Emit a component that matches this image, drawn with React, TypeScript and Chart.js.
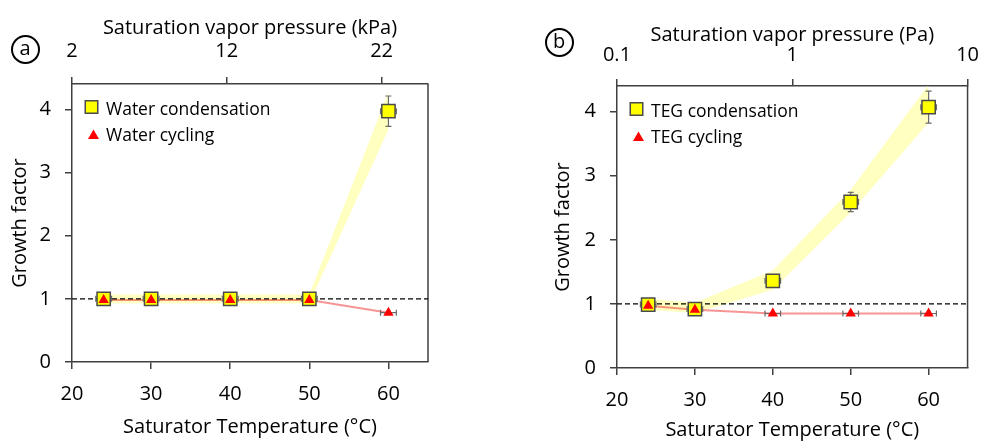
import React, { useEffect, useRef } from "react";
import { Chart, registerables } from "chart.js";

Chart.register(...registerables);

const FONT = "'Open Sans', 'Noto Sans', sans-serif";

// ---- shared data ----
const temperatures = [24, 30, 40, 50, 60];
const temperatureTicks = [20, 30, 40, 50, 60];
const growthTicks = [0, 1, 2, 3, 4];
const referenceGrowth = 1;
const T_MIN = 20;
const T_MAX = 65;
const G_MIN = 0;
const G_MAX = 4.4;

// ---- panel a (water) ----
const waterCondensation = [1.0, 1.0, 1.0, 1.0, 3.97];
const waterCondensationErrY = [0.04, 0.04, 0.04, 0.04, 0.24];
const waterCondensationErrX = [1, 1, 1, 1, 1];
const waterCycling = [0.98, 0.98, 0.98, 0.98, 0.78];
const waterCyclingErrX = [0.5, 0.5, 0.5, 0.5, 1];
const waterBandUpper = [1.07, 1.07, 1.07, 1.07, 4.27];
const waterBandLower = [0.93, 0.93, 0.93, 0.93, 3.68];
const kPaTicks = [2, 12, 22];
const kPaMin = 2;
const kPaMax = 25;

// ---- panel b (TEG) ----
const tegCondensation = [0.99, 0.92, 1.36, 2.59, 4.07];
const tegCondensationErrY = [0.04, 0.04, 0.04, 0.15, 0.25];
const tegCondensationErrX = [1, 1, 1, 1, 1];
const tegCycling = [0.97, 0.91, 0.85, 0.85, 0.85];
const tegCyclingErrX = [0.5, 0.5, 1, 1, 1];
const tegBandUpper = [1.08, 1.02, 1.52, 2.78, 4.42];
const tegBandLower = [0.91, 0.86, 1.22, 2.43, 3.83];
const paTicks = [0.1, 1, 10];
const paMin = 0.1;
const paMax = 10;

const AXIS_COLOR = "#404040";
const YELLOW = "#ffff00";
const MARKER_EDGE = "#4a4a4a";
const RED = "#ff0000";
const PINK = "rgba(240,60,60,0.55)";
const BAND = "rgba(255,255,150,0.6)";
const ERR_COLOR = "#6a6a6a";

type Panel = {
  cond: number[];
  condErrX: number[];
  condErrY: number[];
  cyc: number[];
  cycErrX: number[];
  bandUpper: number[];
  bandLower: number[];
  condLabel: string;
  cycLabel: string;
  topTitle: string;
  topType: "linear" | "logarithmic";
  topMin: number;
  topMax: number;
  topTicks: number[];
  padLeft: number;
  padRight: number;
  yWidth: number;
  xHeight: number;
  topHeight: number;
  yTitlePad: number;
  xTitlePad: number;
  topTitlePad: number;
  xTickPad: number;
  topTickPad: number;
};

const panelA: Panel = {
  cond: waterCondensation,
  condErrX: waterCondensationErrX,
  condErrY: waterCondensationErrY,
  cyc: waterCycling,
  cycErrX: waterCyclingErrX,
  bandUpper: waterBandUpper,
  bandLower: waterBandLower,
  condLabel: "Water condensation",
  cycLabel: "Water cycling",
  topTitle: "Saturation vapor pressure (kPa)",
  topType: "linear",
  topMin: kPaMin,
  topMax: kPaMax,
  topTicks: kPaTicks,
  padLeft: 0,
  padRight: 67,
  yWidth: 72,
  xHeight: 79,
  topHeight: 84,
  yTitlePad: 8,
  xTitlePad: 2,
  topTitlePad: 16,
  xTickPad: 13,
  topTickPad: 14,
};

const panelB: Panel = {
  cond: tegCondensation,
  condErrX: tegCondensationErrX,
  condErrY: tegCondensationErrY,
  cyc: tegCycling,
  cycErrX: tegCyclingErrX,
  bandUpper: tegBandUpper,
  bandLower: tegBandLower,
  condLabel: "TEG condensation",
  cycLabel: "TEG cycling",
  topTitle: "Saturation vapor pressure (Pa)",
  topType: "logarithmic",
  topMin: paMin,
  topMax: paMax,
  topTicks: paTicks,
  padLeft: 47,
  padRight: 13,
  yWidth: 75,
  xHeight: 73,
  topHeight: 86,
  yTitlePad: 9,
  xTitlePad: -1,
  topTitlePad: 23,
  xTickPad: 13,
  topTickPad: 12,
};

function drawSquare(ctx: CanvasRenderingContext2D, x: number, y: number, side: number) {
  ctx.fillStyle = YELLOW;
  ctx.strokeStyle = MARKER_EDGE;
  ctx.lineWidth = 1.5;
  ctx.beginPath();
  ctx.rect(x - side / 2, y - side / 2, side, side);
  ctx.fill();
  ctx.stroke();
}

function drawTriangle(ctx: CanvasRenderingContext2D, x: number, apexY: number, baseY: number, halfW: number) {
  ctx.fillStyle = RED;
  ctx.beginPath();
  ctx.moveTo(x, apexY);
  ctx.lineTo(x + halfW, baseY);
  ctx.lineTo(x - halfW, baseY);
  ctx.closePath();
  ctx.fill();
}

function makeConfig(p: Panel): any {
  const pts = (ys: number[]) => temperatures.map((t, i) => ({ x: t, y: ys[i] }));
  const tickFont = { family: FONT, size: 20 };
  const titleFont = { family: FONT, size: 20 };
  const border = { display: true, color: AXIS_COLOR, width: 1.5 };
  const grid = {
    drawOnChartArea: false,
    drawTicks: true,
    tickLength: 7,
    color: AXIS_COLOR,
    lineWidth: 1.5,
  };

  const errorBars = {
    id: "errorBars",
    beforeDatasetDraw(chart: any, args: any) {
      if (args.index !== 1) return;
      const { ctx } = chart;
      const xs = chart.scales.x;
      const ys = chart.scales.y;
      const cap = 3;
      ctx.save();
      ctx.strokeStyle = ERR_COLOR;
      ctx.lineWidth = 1.2;
      const hBar = (t: number, v: number, e: number) => {
        const x0 = xs.getPixelForValue(t - e);
        const x1 = xs.getPixelForValue(t + e);
        const y = ys.getPixelForValue(v);
        ctx.beginPath();
        ctx.moveTo(x0, y);
        ctx.lineTo(x1, y);
        ctx.moveTo(x0, y - cap);
        ctx.lineTo(x0, y + cap);
        ctx.moveTo(x1, y - cap);
        ctx.lineTo(x1, y + cap);
        ctx.stroke();
      };
      const vBar = (t: number, v: number, e: number) => {
        const x = xs.getPixelForValue(t);
        const y0 = ys.getPixelForValue(v - e);
        const y1 = ys.getPixelForValue(v + e);
        ctx.beginPath();
        ctx.moveTo(x, y0);
        ctx.lineTo(x, y1);
        ctx.moveTo(x - cap, y0);
        ctx.lineTo(x + cap, y0);
        ctx.moveTo(x - cap, y1);
        ctx.lineTo(x + cap, y1);
        ctx.stroke();
      };
      temperatures.forEach((t, i) => {
        hBar(t, p.cond[i], p.condErrX[i]);
        vBar(t, p.cond[i], p.condErrY[i]);
        hBar(t, p.cyc[i], p.cycErrX[i]);
      });
      ctx.restore();
    },
  };

  const frame = {
    id: "frame",
    beforeDatasetsDraw(chart: any) {
      const { ctx, chartArea: a } = chart;
      ctx.save();
      ctx.strokeStyle = AXIS_COLOR;
      ctx.lineWidth = 1.5;
      ctx.beginPath();
      ctx.moveTo(a.right, a.top);
      ctx.lineTo(a.right, a.bottom);
      ctx.stroke();
      ctx.restore();
    },
  };

  const insideLegend = {
    id: "insideLegend",
    afterDraw(chart: any) {
      const { ctx, chartArea: a } = chart;
      ctx.save();
      drawSquare(ctx, a.left + 19.5, a.top + 23, 12.5);
      drawTriangle(ctx, a.left + 21.5, a.top + 45.5, a.top + 55, 5.5);
      ctx.fillStyle = "#000";
      ctx.font = `17.5px ${FONT}`;
      ctx.textAlign = "left";
      ctx.textBaseline = "alphabetic";
      ctx.fillText(p.condLabel, a.left + 34, a.top + 30.5);
      ctx.fillText(p.cycLabel, a.left + 34, a.top + 57);
      ctx.restore();
    },
  };

  return {
    type: "scatter",
    data: {
      datasets: [
        {
          label: p.cycLabel,
          data: pts(p.cyc),
          pointStyle: "triangle",
          pointRadius: 6,
          backgroundColor: RED,
          borderColor: RED,
          borderWidth: 0,
          showLine: false,
          order: 0,
        },
        {
          label: p.condLabel,
          data: pts(p.cond),
          pointStyle: "rect",
          pointRadius: 9.4,
          backgroundColor: YELLOW,
          borderColor: MARKER_EDGE,
          borderWidth: 1.5,
          showLine: false,
          order: 1,
        },
        {
          label: "reference",
          data: [
            { x: T_MIN, y: referenceGrowth },
            { x: T_MAX, y: referenceGrowth },
          ],
          showLine: true,
          borderColor: "#000",
          borderWidth: 1.3,
          borderDash: [5, 3],
          pointRadius: 0,
          fill: false,
          order: 2,
        },
        {
          label: "cycling line",
          data: pts(p.cyc),
          showLine: true,
          borderColor: PINK,
          borderWidth: 2,
          pointRadius: 0,
          fill: false,
          order: 3,
        },
        {
          label: "band upper",
          data: pts(p.bandUpper),
          showLine: true,
          borderColor: "transparent",
          borderWidth: 0,
          pointRadius: 0,
          backgroundColor: BAND,
          fill: "+1",
          order: 4,
        },
        {
          label: "band lower",
          data: pts(p.bandLower),
          showLine: true,
          borderColor: "transparent",
          borderWidth: 0,
          pointRadius: 0,
          fill: false,
          order: 5,
        },
      ],
    },
    options: {
      responsive: false,
      animation: false,
      events: [],
      layout: { padding: { left: p.padLeft, right: p.padRight, top: 0, bottom: 0 } },
      plugins: {
        legend: { display: false },
        tooltip: { enabled: false },
      },
      scales: {
        x: {
          type: "linear",
          position: "bottom",
          min: T_MIN,
          max: T_MAX,
          afterBuildTicks: (s: any) => {
            s.ticks = temperatureTicks.map((v) => ({ value: v }));
          },
          afterFit: (s: any) => {
            s.height = p.xHeight;
          },
          grid,
          border,
          ticks: { font: tickFont, color: "#000", padding: p.xTickPad, maxRotation: 0, autoSkip: false },
          title: {
            display: true,
            text: "Saturator Temperature (°C)",
            font: titleFont,
            color: "#000",
            padding: { top: 0, bottom: p.xTitlePad },
          },
        },
        x2: {
          type: p.topType,
          axis: "x",
          position: "top",
          min: p.topMin,
          max: p.topMax,
          afterBuildTicks: (s: any) => {
            s.ticks = p.topTicks.map((v) => ({ value: v }));
          },
          afterFit: (s: any) => {
            s.height = p.topHeight;
          },
          grid,
          border,
          ticks: {
            font: tickFont,
            color: "#000",
            padding: p.topTickPad,
            maxRotation: 0,
            autoSkip: false,
            callback: (v: any) => String(v),
          },
          title: {
            display: true,
            text: p.topTitle,
            font: titleFont,
            color: "#000",
            padding: { top: p.topTitlePad, bottom: 0 },
          },
        },
        y: {
          type: "linear",
          position: "left",
          min: G_MIN,
          max: G_MAX,
          afterBuildTicks: (s: any) => {
            s.ticks = growthTicks.map((v) => ({ value: v }));
          },
          afterFit: (s: any) => {
            s.width = p.yWidth;
          },
          grid,
          border,
          ticks: { font: tickFont, color: "#000", padding: 14, autoSkip: false },
          title: {
            display: true,
            text: "Growth factor",
            font: titleFont,
            color: "#000",
            padding: { top: p.yTitlePad, bottom: 0 },
          },
        },
      },
    },
    plugins: [frame, errorBars, insideLegend],
  };
}

function PanelChart({ panel, left, width }: { panel: Panel; left: number; width: number }) {
  const ref = useRef<HTMLCanvasElement>(null);
  useEffect(() => {
    const chart = new Chart(ref.current as HTMLCanvasElement, makeConfig(panel));
    return () => chart.destroy();
  }, [panel]);
  return (
    <canvas
      ref={ref}
      width={width}
      height={441}
      style={{ position: "absolute", left, top: 0, width, height: 441 }}
    />
  );
}

function CircleLabel({ text, cx, cy }: { text: string; cx: number; cy: number }) {
  const d = 29;
  return (
    <div
      style={{
        position: "absolute",
        left: cx - d / 2,
        top: cy - d / 2,
        width: d,
        height: d,
        boxSizing: "border-box",
        border: "2px solid #000",
        borderRadius: "50%",
        display: "flex",
        alignItems: "center",
        justifyContent: "center",
        fontFamily: FONT,
        fontSize: 20,
        lineHeight: 1,
        color: "#000",
        paddingBottom: 2,
      }}
    >
      {text}
    </div>
  );
}

export default function App() {
  return (
    <div
      style={{
        position: "absolute",
        left: 0,
        top: 0,
        width: 991,
        height: 441,
        background: "#fff",
        overflow: "hidden",
      }}
    >
      <PanelChart panel={panelA} left={0} width={495} />
      <PanelChart panel={panelB} left={495} width={496} />
      <CircleLabel text="a" cx={25} cy={49} />
      <CircleLabel text="b" cx={559} cy={42} />
    </div>
  );
}
